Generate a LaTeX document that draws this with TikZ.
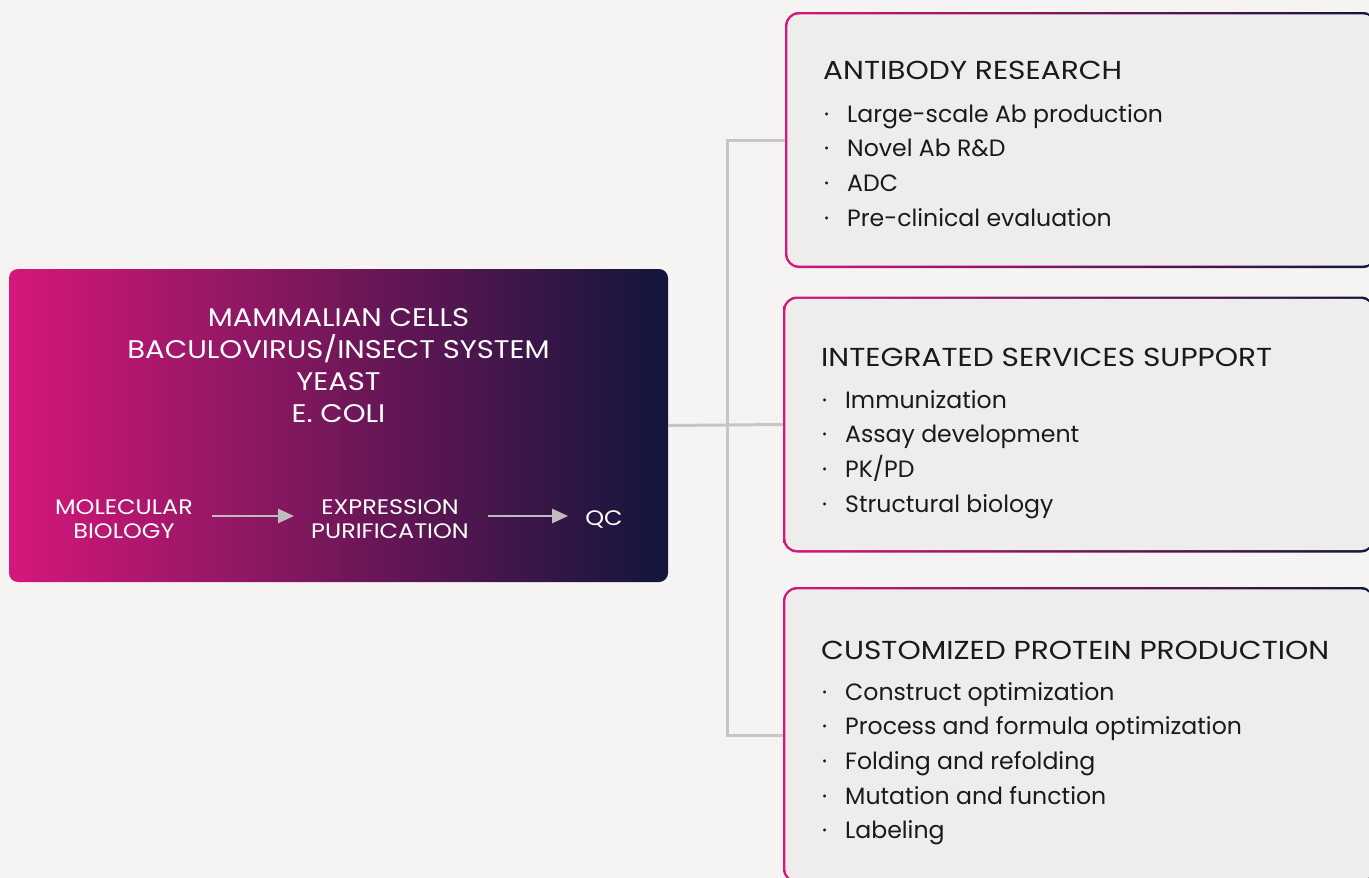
\documentclass[tikz,border=0pt]{standalone}
\usepackage{fontspec}
\setmainfont{Poppins}
\newfontfamily\capsfont{Poppins}[FakeStretch=1.14]
\usetikzlibrary{arrows.meta,calc,positioning}
\definecolor{paper}{HTML}{F5F4F2}
\definecolor{cardgrey}{HTML}{EEEDEB}
\definecolor{cpink}{HTML}{D6177B}
\definecolor{cnavy}{HTML}{11163A}
\definecolor{linkgrey}{HTML}{C6C6C6}
\definecolor{flowgrey}{HTML}{BDBDBD}
\definecolor{ink}{HTML}{1A1A1A}
\newcommand{\dotitem}{\makebox[23pt][l]{·}}
\tikzset{>=latex}

\begin{document}
\begin{tikzpicture}[x=1pt, y=-1pt,
	srcbox/.style={rounded corners=9pt, left color=cpink, right color=cnavy, minimum width=659pt, minimum height=313pt, inner sep=0pt},
	cardedge/.style={rounded corners=14pt, left color=cpink, right color=cnavy, minimum width=592pt, minimum height=256pt, inner sep=0pt},
	hosttext/.style={text=white, align=center, font=\capsfont\fontsize{25.5}{32}\selectfont},
	flowtext/.style={text=white, align=center, inner sep=0pt, font=\capsfont\fontsize{21}{24}\selectfont},
	flow/.style={->, draw=flowgrey, line width=2.5pt, -{Triangle[length=16pt,width=14pt]}, shorten <=19pt, shorten >=17pt},
	cardhead/.style={anchor=west, inner sep=0pt, text=ink, font=\capsfont\fontsize{26}{28}\selectfont},
	carditems/.style={anchor=north west, inner sep=0pt, align=left, text=ink, font=\fontsize{23.6}{34.7}\selectfont},
	link/.style={draw=linkgrey, line width=3pt}]
	\fill[paper] (0,0) rectangle (1369,878);
	\useasboundingbox (0,0) rectangle (1369,878);

	% source box
	\node[srcbox] (src) at (338.5,425.5) {};
	\node[hosttext] (hosts) at (338.5,366) {MAMMALIAN CELLS\\BACULOVIRUS/INSECT SYSTEM\\YEAST\\E. COLI};
	\node[flowtext] (molbio) at (124,519) {MOLECULAR\\BIOLOGY};
	\node[flowtext] (expr) at (390,519) {EXPRESSION\\PURIFICATION};
	\node[flowtext] (qc) at (604,519) {QC};
	\draw[flow] ([yshift=3pt]molbio.east) -- ([yshift=3pt]expr.west);
	\draw[flow] ([yshift=3pt]expr.east) -- ([yshift=3pt]qc.west);

	% cards
	\node[cardedge] (ab) at (1081,140) {};
	\fill[cardgrey, rounded corners=12pt] ($(ab.north west)+(2.5,2.5)$) rectangle ($(ab.south east)+(-2.5,-2.5)$);
	\node[cardedge] (iss) at (1079,424.5) {};
	\fill[cardgrey, rounded corners=12pt] ($(iss.north west)+(2.5,2.5)$) rectangle ($(iss.south east)+(-2.5,-2.5)$);
	\node[cardedge, minimum height=296pt] (cpp) at (1079,735) {};
	\fill[cardgrey, rounded corners=12pt] ($(cpp.north west)+(2.5,2.5)$) rectangle ($(cpp.south east)+(-2.5,-2.5)$);

	\node[cardhead] (abhead) at (823,70) {ANTIBODY RESEARCH};
	\node[carditems] (abitems) at (824,104) {\dotitem Large-scale Ab production\\\dotitem Novel Ab R\&D\\\dotitem ADC\\\dotitem Pre-clinical evaluation};
	\node[cardhead] (isshead) at (821,357) {INTEGRATED SERVICES SUPPORT};
	\node[carditems] (issitems) at (822,390) {\dotitem Immunization\\\dotitem Assay development\\\dotitem PK/PD\\\dotitem Structural biology};
	\node[cardhead] (cpphead) at (821,650) {CUSTOMIZED PROTEIN PRODUCTION};
	\node[carditems] (cppitems) at (822,682) {\dotitem Construct optimization\\\dotitem Process and formula optimization\\\dotitem Folding and refolding\\\dotitem Mutation and function\\\dotitem Labeling};

	% connectors
	\coordinate (trunk) at (727,425);
	\draw[link] (src.east) -- (iss.west);
	\draw[link] (ab.west) -| (trunk) |- (cpp.west);
\end{tikzpicture}
\end{document}
